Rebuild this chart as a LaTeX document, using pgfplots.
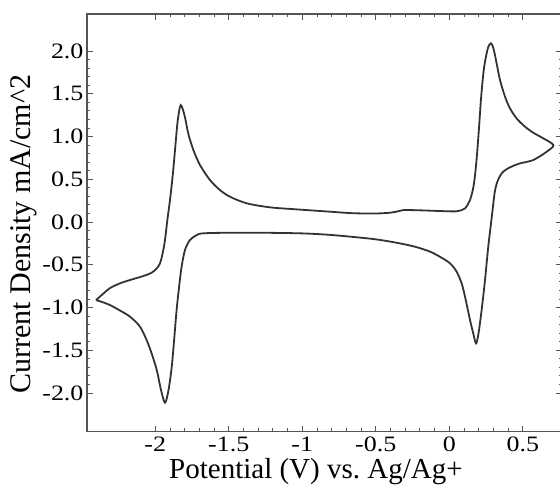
\documentclass[border=0pt]{standalone}
\usepackage{fontspec}
\setmainfont{Liberation Serif}
\newfontfamily\tickfont[FakeStretch=1.18]{Liberation Serif}
\usepackage{pgfplots}
\pgfplotsset{compat=1.18}
\definecolor{curve}{HTML}{333333}
\definecolor{axc}{HTML}{555555}
\begin{document}
\begin{tikzpicture}
\begin{axis}[
  name=ax, at={(0,0)}, anchor=south west,
  scale only axis, width=475pt, height=417.7pt,
  xmin=-2.4646, xmax=0.7667, ymin=-2.452, ymax=2.433,
  axis line style={color=axc, line width=1.1pt},
  every tick/.style={color=axc, line width=0.9pt},
  tick align=inside,
  major tick length=6pt, minor tick length=3.5pt,
  xtick={-2,-1.5,-1,-0.5,0,0.5}, minor x tick num=4,
  ytick={-2,-1.5,-1,-0.5,0,0.5,1,1.5,2}, minor y tick num=4,
  /pgf/number format/assume math mode=true,
  tick label style={font=\tickfont\fontsize{22}{22}\selectfont},
  yticklabel style={/pgf/number format/.cd, fixed, fixed zerofill, precision=1},
  xticklabel style={yshift=-2pt},
  xlabel={Potential (V) vs.\ Ag/Ag+},
  ylabel={Current Density mA/cm\textasciicircum 2},
  xlabel style={font=\fontsize{29}{29}\selectfont, at={(axis description cs:0.482,-0.1132)}, anchor=base},
  ylabel style={font=\fontsize{30}{30}\selectfont, at={(axis description cs:-0.1326,0.473)}, anchor=center},
]
\addplot[color=curve, line width=1.8pt, smooth, tension=0.5] coordinates {
(-2.403,-0.912) (-2.354,-0.838) (-2.308,-0.772) (-2.240,-0.717) (-2.172,-0.678)
(-2.082,-0.632) (-2.025,-0.593) (-1.990,-0.542) (-1.968,-0.483) (-1.950,-0.366)
(-1.934,-0.21) (-1.918,0.023) (-1.900,0.257) (-1.880,0.57) (-1.862,0.92)
(-1.847,1.193) (-1.827,1.368) (-1.800,1.24) (-1.776,1.037) (-1.741,0.842)
(-1.696,0.667) (-1.628,0.491) (-1.560,0.374) (-1.492,0.296) (-1.378,0.219)
(-1.220,0.172) (-1.038,0.148) (-0.812,0.121) (-0.653,0.103) (-0.5,0.10)
(-0.403,0.109) (-0.35,0.125) (-0.313,0.14) (-0.2,0.137) (0.005,0.125)
(0.061,0.129) (0.107,0.16) (0.141,0.257) (0.166,0.43) (0.184,0.70)
(0.201,1.076) (0.217,1.466) (0.236,1.80) (0.262,2.03) (0.284,2.09)
(0.302,2.02) (0.322,1.856) (0.345,1.661) (0.379,1.466) (0.413,1.329)
(0.458,1.212) (0.515,1.115) (0.571,1.045) (0.639,0.979) (0.708,0.90)
(0.662,0.822) (0.571,0.725) (0.481,0.686) (0.413,0.640) (0.367,0.589)
(0.342,0.530) (0.323,0.452) (0.309,0.35) (0.297,0.179) (0.287,0.03)
(0.265,-0.289) (0.243,-0.678) (0.220,-1.029) (0.198,-1.31) (0.182,-1.419)
(0.163,-1.302) (0.141,-1.146) (0.107,-0.873) (0.084,-0.717) (0.050,-0.581)
(0.005,-0.483) (-0.06,-0.41) (-0.13,-0.347) (-0.23,-0.29) (-0.335,-0.25)
(-0.45,-0.215) (-0.562,-0.19) (-0.812,-0.15) (-1.015,-0.132) (-1.3,-0.125)
(-1.5,-0.125) (-1.673,-0.132) (-1.718,-0.152) (-1.764,-0.21) (-1.798,-0.327)
(-1.821,-0.522) (-1.838,-0.757) (-1.855,-1.029) (-1.872,-1.380) (-1.888,-1.692)
(-1.910,-1.965) (-1.934,-2.113) (-1.961,-1.965) (-1.990,-1.731) (-2.025,-1.536)
(-2.059,-1.380) (-2.104,-1.224) (-2.172,-1.107) (-2.240,-1.035) (-2.308,-0.971)
(-2.354,-0.94) (-2.403,-0.912)
};
\end{axis}
\pgfresetboundingbox
\path[use as bounding box] (-87pt,-58.3pt) rectangle (473pt,431.7pt);
\end{tikzpicture}
\end{document}
